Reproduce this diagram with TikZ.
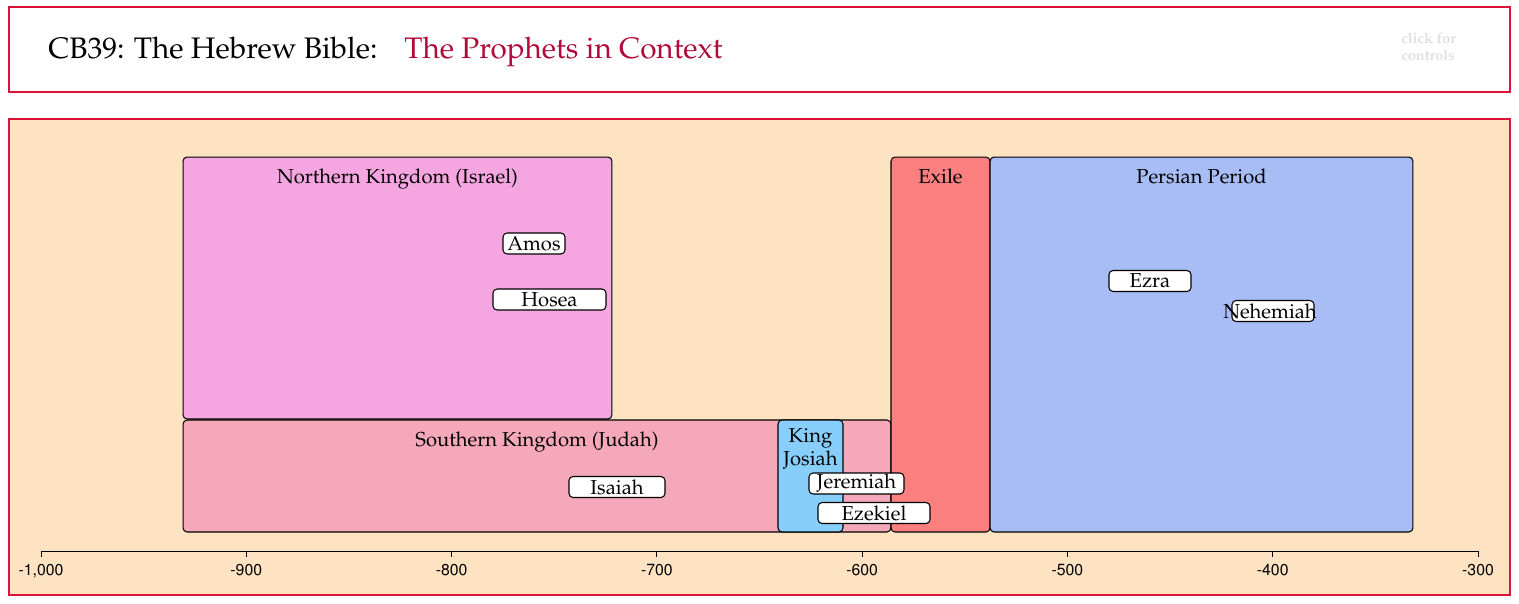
\documentclass[tikz,border=0pt]{standalone}
\usepackage[T1]{fontenc}
\usepackage{xcolor}
\usepackage{tikz}
\usetikzlibrary{positioning}

\newcommand{\palfont}{\fontfamily{ppl}\selectfont}
\newcommand{\axfont}{\fontfamily{phv}\fontsize{9}{10}\selectfont}

\definecolor{crimsonframe}{HTML}{DC143C}
\definecolor{panelbg}{HTML}{FDE3C2}
\definecolor{titlered}{HTML}{B10A3B}
\definecolor{nkcol}{HTML}{F5A6E1}
\definecolor{skcol}{HTML}{F4A8B9}
\definecolor{jocol}{HTML}{87CEFA}
\definecolor{excol}{HTML}{FA8080}
\definecolor{pecol}{HTML}{A8BCF5}

\begin{document}
\begin{tikzpicture}[
    x=0.02cm, y=-0.02cm,
    panel/.style={draw=crimsonframe, line width=1.1pt},
    region/.style={draw=black, line width=0.6pt, rounded corners=2.3pt, inner sep=0pt},
    rtitle/.style={inner sep=0pt, align=center, font={\palfont\fontsize{11.5}{13}\selectfont}},
    pbox/.style={draw=black, line width=0.6pt, fill=white, rounded corners=2.3pt, minimum height=0.42cm, inner sep=0pt, font={\palfont\fontsize{11.5}{12}\selectfont}}
]
\useasboundingbox (0,0) rectangle (1519,603);

% Header
\node[panel, fill=white, minimum width=30.02cm, minimum height=1.70cm] (header) at (759.5,49.5) {};
\node[anchor=base west, inner sep=0pt, font={\palfont\fontsize{16.9}{19}\selectfont}] (course) at (48,58) {CB39: The Hebrew Bible:};
\node[anchor=base west, inner sep=0pt, text=titlered, font={\palfont\fontsize{16.9}{19}\selectfont}] (subtitle) at (404,58) {The Prophets in Context};
\node[anchor=north west, inner sep=0pt, align=left, text=black!12, font={\palfont\bfseries\fontsize{8.3}{9.2}\selectfont}] (ctrl) at (1401,33) {click for\\controls};

% Timeline panel
\node[panel, fill=panelbg, minimum width=30.02cm, minimum height=9.52cm] (panel) at (759.5,357) {};

% Periods
\node[region, fill=nkcol, minimum width=8.58cm, minimum height=5.24cm] (israel) at (397.5,288) {};
\node[region, fill=skcol, minimum width=14.16cm, minimum height=2.24cm] (judah) at (537,476) {};
\node[region, fill=jocol, minimum width=1.30cm, minimum height=2.24cm] (josiah) at (810.5,476) {};
\node[region, fill=excol, minimum width=1.98cm, minimum height=7.50cm] (exile) at (940.5,344.5) {};
\node[region, fill=pecol, minimum width=8.46cm, minimum height=7.50cm] (persia) at (1201.5,344.5) {};

% Period titles
\node[rtitle, below=0.24cm of israel.north] (israeltitle) {Northern Kingdom (Israel)};
\node[rtitle, below=0.24cm of judah.north] (judahtitle) {Southern Kingdom (Judah)};
\node[rtitle, below=0.18cm of josiah.north] (josiahtitle) {King\\Josiah};
\node[rtitle, below=0.24cm of exile.north] (exiletitle) {Exile};
\node[rtitle, below=0.24cm of persia.north] (persiatitle) {Persian Period};

% Prophets
\node[pbox, minimum width=1.24cm] (amos) at (534,243.5) {Amos};
\node[pbox, minimum width=2.26cm] (hosea) at (549.5,299.5) {Hosea};
\node[pbox, minimum width=1.92cm] (isaiah) at (617,487) {Isaiah};
\node[pbox, minimum width=1.90cm] (jeremiah) at (856.5,483.5) {Jeremiah};
\node[pbox, minimum width=2.24cm] (ezekiel) at (874,513) {Ezekiel};
\node[pbox, minimum width=1.64cm] (ezra) at (1150,281) {Ezra};
\node[pbox, minimum width=1.64cm] (nehemiah) at (1273,311) {};
\node[rtitle] (nehemiahtext) at (1270,311) {Nehemiah};

% Axis
\coordinate (axstart) at (41,551);
\coordinate (axend) at (1478,551);
\draw[line width=0.5pt] (axstart) -- (axend);
\foreach \yr/\lab in {-1000/{-1,000}, -900/-900, -800/-800, -700/-700, -600/-600, -500/-500, -400/-400, -300/-300} {
    \draw[line width=0.5pt] ({41+(\yr+1000)*2.0529},551) -- ++(0,6);
    \node[font=\axfont, anchor=base, inner sep=0pt] (tk\yr) at ({41+(\yr+1000)*2.0529},575) {\lab};
}

\end{tikzpicture}
\end{document}
